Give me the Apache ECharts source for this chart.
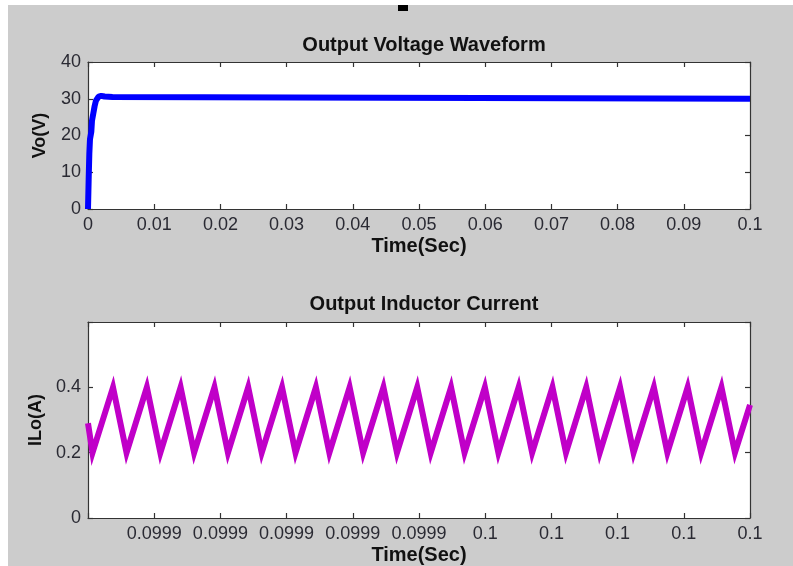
<!DOCTYPE html>
<html><head><meta charset="utf-8">
<script src="https://cdn.jsdelivr.net/npm/echarts@6/dist/echarts.min.js"></script>
<style>html,body{margin:0;padding:0;background:#fff}#c{width:793px;height:566px}</style>
</head><body><div id="c"></div>
<script>
// Output voltage (time in s, volts)
const voTime = [0, 0.0001, 0.0002, 0.0003, 0.0005, 0.0006, 0.0008, 0.001, 0.0012, 0.0016, 0.002, 0.0025, 0.0037, 0.0038, 0.1];
const voValue = [0, 8, 15, 19, 21, 24, 26, 28, 29.5, 30.6, 30.8, 30.6, 30.5, 30, 30];
const voXTicks = ['0', '0.01', '0.02', '0.03', '0.04', '0.05', '0.06', '0.07', '0.08', '0.09', '0.1'];
const voYTicks = ['0', '10', '20', '30', '40'];

// Inductor current (time in microseconds, amps)
const ilTimeUs = [99900, 99900.68, 99903.78, 99905.82, 99908.89, 99910.93, 99913.99, 99916.03, 99919.10, 99921.14,
  99924.20, 99926.24, 99929.31, 99931.35, 99934.42, 99936.46, 99939.52, 99941.56, 99944.63, 99946.67,
  99949.73, 99951.77, 99954.84, 99956.88, 99959.95, 99961.99, 99965.05, 99967.09, 99970.16, 99972.20,
  99975.26, 99977.30, 99980.37, 99982.41, 99985.48, 99987.52, 99990.58, 99992.62, 99995.69, 99997.73, 100000];
const ilValue = [0.29, 0.2, 0.4, 0.2, 0.4, 0.2, 0.4, 0.2, 0.4, 0.2,
  0.4, 0.2, 0.4, 0.2, 0.4, 0.2, 0.4, 0.2, 0.4, 0.2,
  0.4, 0.2, 0.4, 0.2, 0.4, 0.2, 0.4, 0.2, 0.4, 0.2,
  0.4, 0.2, 0.4, 0.2, 0.4, 0.2, 0.4, 0.2, 0.4, 0.2, 0.346];
const ilXTicks = ['', '0.0999', '0.0999', '0.0999', '0.0999', '0.0999', '0.1', '0.1', '0.1', '0.1', '0.1'];
const ilYTicks = ['0', '0.2', '0.4', ''];

const font = "'Liberation Sans', Arial, sans-serif";
const lblColor = '#2a2a33';
const lineStyle = { color: '#333', width: 1.2 };

function axisX(gi, min, max, interval, labels, show) {
  return {
    type: 'value', gridIndex: gi, min: min, max: max, interval: interval,
    position: show ? 'bottom' : 'top',
    axisLine: { show: true, onZero: false, lineStyle: lineStyle },
    axisTick: { show: true, inside: true, length: 5, lineStyle: lineStyle },
    splitLine: { show: false },
    axisLabel: show ? { show: true, color: lblColor, fontFamily: font, fontSize: 18, margin: 7,
      formatter: (v, i) => labels[i] !== undefined ? labels[i] : '' } : { show: false },
    name: show ? 'Time(Sec)' : '', nameLocation: 'middle', nameGap: 27,
    nameTextStyle: { color: '#111', fontFamily: font, fontSize: 20, fontWeight: 'bold' }
  };
}
function axisY(gi, min, max, interval, labels, show, name) {
  return {
    type: 'value', gridIndex: gi, min: min, max: max, interval: interval,
    position: show ? 'left' : 'right',
    axisLine: { show: true, onZero: false, lineStyle: lineStyle },
    axisTick: { show: true, inside: true, length: 5, lineStyle: lineStyle },
    splitLine: { show: false },
    axisLabel: show ? { show: true, color: lblColor, fontFamily: font, fontSize: 18, margin: 7,
      formatter: (v, i) => labels[i] !== undefined ? labels[i] : '' } : { show: false },
    name: show ? name : '', nameLocation: 'middle', nameGap: 39, nameRotate: 90,
    nameTextStyle: { color: '#111', fontFamily: font, fontSize: 18, fontWeight: 'bold' }
  };
}

const chart = echarts.init(document.getElementById('c'), null, { renderer: 'canvas' });
chart.setOption({
  backgroundColor: '#fff',
  animation: false,
  graphic: [
    { type: 'rect', left: 8, top: 5, shape: { width: 785, height: 561 }, style: { fill: '#cccccc' }, z: -10 },
    { type: 'rect', left: 398, top: 5, shape: { width: 10, height: 6 }, style: { fill: '#000' }, z: 10 }
  ],
  title: [
    { text: 'Output Voltage Waveform', left: 419, top: 30, textAlign: 'center',
      textStyle: { fontFamily: font, fontSize: 20, fontWeight: 'bold', color: '#111' } },
    { text: 'Output Inductor Current', left: 419, top: 289, textAlign: 'center',
      textStyle: { fontFamily: font, fontSize: 20, fontWeight: 'bold', color: '#111' } }
  ],
  grid: [
    { left: 88, top: 62, width: 662, height: 147, show: true, backgroundColor: '#fff', borderWidth: 0 },
    { left: 88, top: 322, width: 662, height: 199, show: true, backgroundColor: '#fff', borderWidth: 0 }
  ],
  xAxis: [
    axisX(0, 0, 0.1, 0.01, voXTicks, true),
    axisX(0, 0, 0.1, 0.01, voXTicks, false),
    axisX(1, 99900, 100000, 10, ilXTicks, true),
    axisX(1, 99900, 100000, 10, ilXTicks, false)
  ],
  yAxis: [
    axisY(0, 0, 40, 10, voYTicks, true, 'Vo(V)'),
    axisY(0, 0, 40, 10, voYTicks, false, ''),
    axisY(1, 0, 0.6, 0.2, ilYTicks, true, 'ILo(A)'),
    axisY(1, 0, 0.6, 0.2, ilYTicks, false, '')
  ],
  series: [
    { type: 'line', xAxisIndex: 0, yAxisIndex: 0, showSymbol: false, symbol: 'none',
      data: voTime.map((t, i) => [t, voValue[i]]),
      lineStyle: { color: '#0000ff', width: 6 } },
    { type: 'line', xAxisIndex: 2, yAxisIndex: 2, showSymbol: false, symbol: 'none',
      data: ilTimeUs.map((t, i) => [t, ilValue[i]]),
      lineStyle: { color: '#c000c8', width: 6, join: 'miter' } }
  ]
});
</script></body></html>
